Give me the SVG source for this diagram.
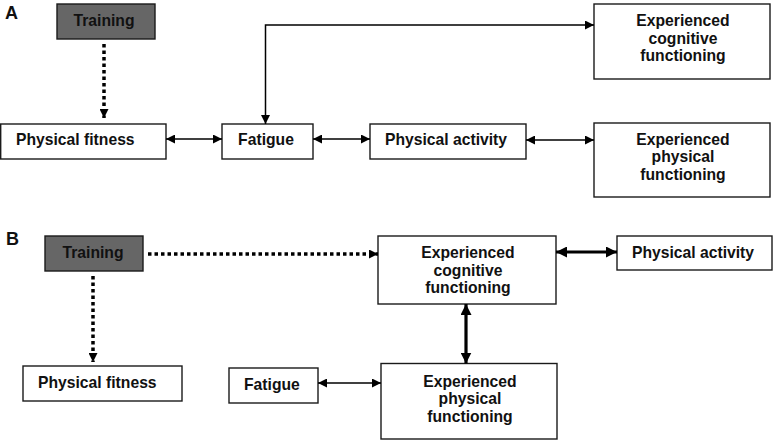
<svg xmlns="http://www.w3.org/2000/svg" width="773" height="440" viewBox="0 0 773 440">
<style>
text{font-family:"Liberation Sans",Arial,Helvetica,sans-serif;font-weight:bold;font-size:15.7px;fill:#111}
.lbl{font-size:18px}
.box{fill:#fff;stroke:#1a1a1a;stroke-width:1.4}
.dark{fill:#666;stroke:#1a1a1a;stroke-width:1.4}
.c{text-anchor:middle}
.thin{fill:none;stroke:#000;stroke-width:1.5}
.thick{fill:none;stroke:#000;stroke-width:3.2}
.dot{fill:none;stroke:#000;stroke-width:3.5;stroke-dasharray:3.5 3}
</style>
<defs>
<marker id="ah" viewBox="0 0 10 10" refX="10" refY="5" markerWidth="10" markerHeight="9" markerUnits="userSpaceOnUse" orient="auto-start-reverse"><path d="M0,0 L10,5 L0,10 z" fill="#000"/></marker>
<marker id="ahb" viewBox="0 0 10 10" refX="10" refY="5" markerWidth="11" markerHeight="11" markerUnits="userSpaceOnUse" orient="auto-start-reverse"><path d="M0,0 L10,5 L0,10 z" fill="#000"/></marker>
</defs>
<text class="lbl" x="5" y="19">A</text>
<text class="lbl" x="6" y="245">B</text>
<g id="a-training"><rect class="dark" x="57" y="4" width="98" height="35"/><text class="c" x="104" y="26">Training</text></g>
<g id="a-fitness"><rect class="box" x="0.7" y="124" width="165.3" height="35"/><text x="16" y="145">Physical fitness</text></g>
<g id="a-fatigue"><rect class="box" x="222" y="124" width="91" height="35"/><text class="c" x="266" y="145">Fatigue</text></g>
<g id="a-activity"><rect class="box" x="370" y="124" width="156" height="35"/><text class="c" x="446" y="145">Physical activity</text></g>
<g id="a-cognitive"><rect class="box" x="594" y="4" width="176" height="75"/><text class="c" x="683" y="26">Experienced</text><text class="c" x="683" y="43.5">cognitive</text><text class="c" x="683" y="61">functioning</text></g>
<g id="a-physical"><rect class="box" x="594" y="123" width="176" height="74"/><text class="c" x="683" y="144.5">Experienced</text><text class="c" x="683" y="162">physical</text><text class="c" x="683" y="179.5">functioning</text></g>
<g id="b-training"><rect class="dark" x="45" y="236" width="98" height="35"/><text class="c" x="93" y="257.5">Training</text></g>
<g id="b-fitness"><rect class="box" x="23" y="366" width="159" height="35"/><text x="38" y="388">Physical fitness</text></g>
<g id="b-fatigue"><rect class="box" x="229" y="368" width="89" height="35"/><text x="244" y="389.5">Fatigue</text></g>
<g id="b-cognitive"><rect class="box" x="378" y="236" width="178" height="68"/><text class="c" x="468" y="258">Experienced</text><text class="c" x="468" y="275.5">cognitive</text><text class="c" x="468" y="293">functioning</text></g>
<g id="b-activity"><rect class="box" x="617" y="236" width="155" height="34"/><text class="c" x="693" y="257.5">Physical activity</text></g>
<g id="b-physical"><rect class="box" x="381" y="363.5" width="176" height="75.5"/><text class="c" x="470" y="386.5">Experienced</text><text class="c" x="470" y="404">physical</text><text class="c" x="470" y="421.5">functioning</text></g>
<g id="connectors">
<path class="dot" d="M104,44 V118" marker-end="url(#ah)"/>
<path class="thin" d="M166,139 H222" marker-start="url(#ah)" marker-end="url(#ah)"/>
<path class="thin" d="M313,139 H370" marker-start="url(#ah)" marker-end="url(#ah)"/>
<path class="thin" d="M526,140 H594" marker-start="url(#ah)" marker-end="url(#ah)"/>
<path class="thin" d="M265.5,124 V25 H594" marker-start="url(#ah)" marker-end="url(#ah)"/>
<path class="dot" d="M148,254 H378" marker-end="url(#ah)"/>
<path class="dot" d="M93,276 V362" marker-end="url(#ah)"/>
<path class="thick" d="M556,252 H617" marker-start="url(#ahb)" marker-end="url(#ahb)"/>
<path class="thick" d="M466,304 V363.5" marker-start="url(#ahb)" marker-end="url(#ahb)"/>
<path class="thin" d="M318,383 H381" marker-start="url(#ah)" marker-end="url(#ah)"/>
</g>
</svg>
